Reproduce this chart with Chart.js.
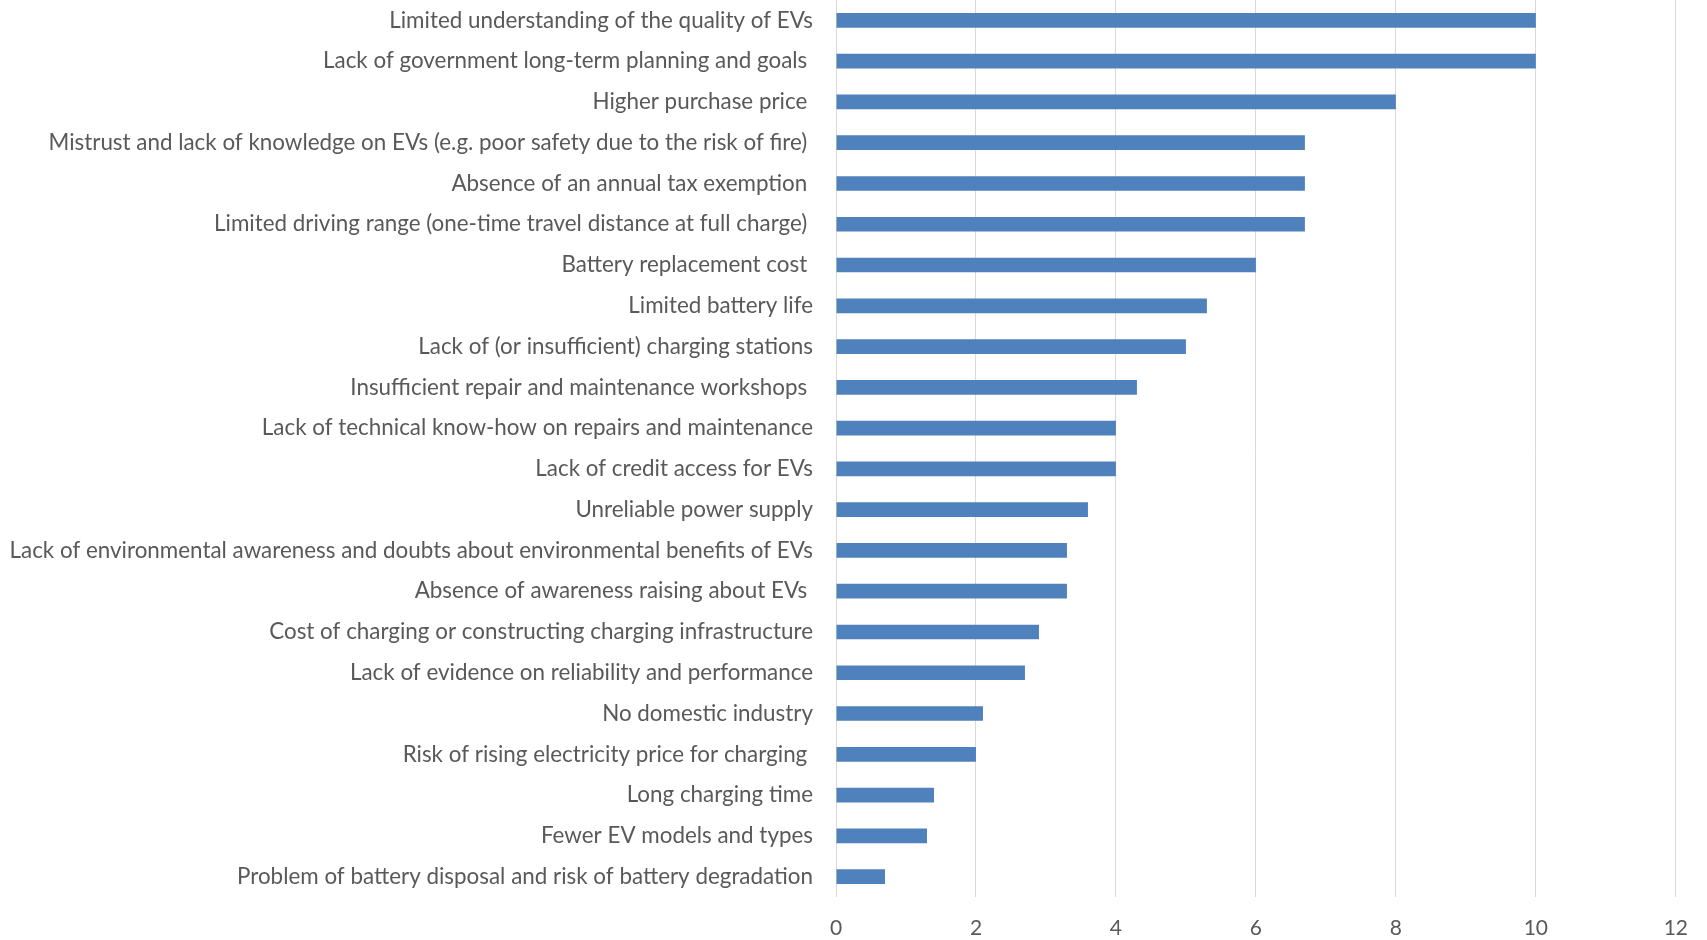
<!DOCTYPE html>
<html>
<head>
<meta charset="utf-8">
<script src="https://cdn.jsdelivr.net/npm/chart.js@4/dist/chart.umd.min.js"></script>
<style>
  html, body { margin: 0; padding: 0; background: #ffffff; overflow: hidden; }
  canvas { display: block; }
</style>
</head>
<body>
<canvas id="chart" width="1707" height="940"></canvas>
<script>
// Barriers to EV adoption, ordered from most to least cited
const barriers = [
  "Limited understanding of the quality of EVs",
  "Lack of government long-term planning and goals ",
  "Higher purchase price ",
  "Mistrust and lack of knowledge on EVs (e.g. poor safety due to the risk of fire) ",
  "Absence of an annual tax exemption ",
  "Limited driving range (one-time travel distance at full charge) ",
  "Battery replacement cost ",
  "Limited battery life",
  "Lack of (or insufficient) charging stations",
  "Insufficient repair and maintenance workshops ",
  "Lack of technical know-how on repairs and maintenance",
  "Lack of credit access for EVs",
  "Unreliable power supply",
  "Lack of environmental awareness and doubts about environmental benefits of EVs",
  "Absence of awareness raising about EVs ",
  "Cost of charging or constructing charging infrastructure",
  "Lack of evidence on reliability and performance",
  "No domestic industry",
  "Risk of rising electricity price for charging ",
  "Long charging time",
  "Fewer EV models and types",
  "Problem of battery disposal and risk of battery degradation"
];

const scores = [10, 10, 8, 6.7, 6.7, 6.7, 6, 5.3, 5, 4.3, 4, 4, 3.6, 3.3, 3.3, 2.9, 2.7, 2.1, 2, 1.4, 1.3, 0.7];

const axisMin = 0;
const axisMax = 12;
const axisStep = 2;

const textColor = "#595959";
const fontFamily = "Lato, 'Open Sans', sans-serif";

new Chart(document.getElementById("chart"), {
  type: "bar",
  data: {
    labels: barriers,
    datasets: [{
      data: scores,
      backgroundColor: "#4f81bd",
      borderWidth: 0,
      barPercentage: 0.36,
      categoryPercentage: 1.0
    }]
  },
  options: {
    indexAxis: "y",
    responsive: false,
    animation: false,
    devicePixelRatio: 1,
    layout: { padding: { top: 0, right: 27, bottom: 0, left: 0 } },
    plugins: {
      legend: { display: false },
      tooltip: { enabled: false }
    },
    scales: {
      x: {
        min: axisMin,
        max: axisMax,
        border: { display: false },
        grid: { color: "#d9d9d9", lineWidth: 1, drawTicks: false },
        ticks: {
          stepSize: axisStep,
          padding: 19,
          color: textColor,
          font: { family: fontFamily, size: 21 }
        },
        afterFit: (scale) => {
          // fixed strip for the value labels under the plot
          scale.height = 43;
        }
      },
      y: {
        border: { display: false },
        grid: { display: false, drawTicks: false },
        ticks: {
          padding: 23,
          autoSkip: false,
          color: textColor,
          font: { family: fontFamily, size: 22.4 }
        },
        afterFit: (scale) => {
          // fixed label column; the category bands already keep labels inside
          scale.width = 836;
          scale.paddingTop = 0;
          scale.paddingBottom = 0;
        }
      }
    }
  }
});
</script>
</body>
</html>
